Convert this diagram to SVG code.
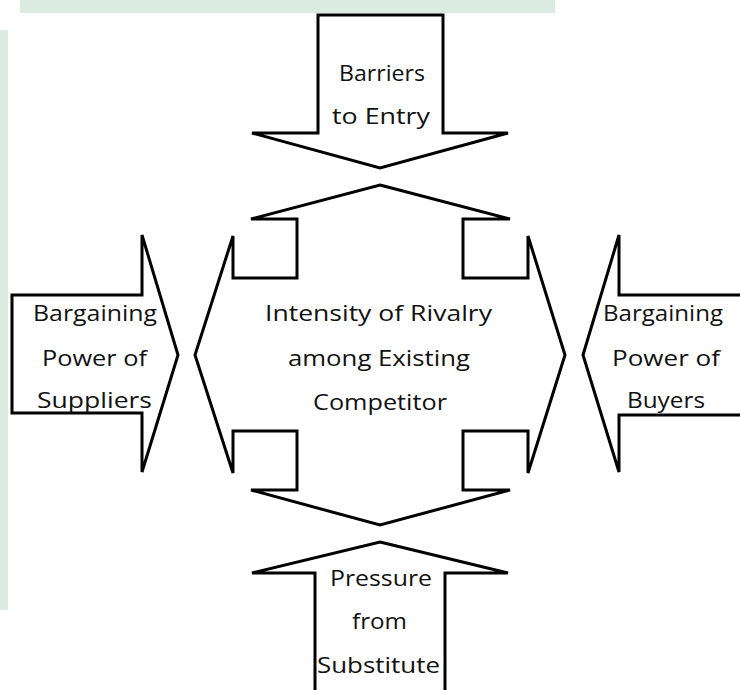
<svg xmlns="http://www.w3.org/2000/svg" width="740" height="690" viewBox="0 0 740 690">
  <style>
    .shape { fill: #ffffff; stroke: #000000; stroke-width: 3; stroke-linejoin: miter; }
    .lbl { font-family: "Open Sans", "Noto Sans", "DejaVu Sans", sans-serif; font-size: 21px; fill: #111111; text-anchor: middle; }
    .wm { fill: #dcebe2; }
  </style>
  <rect x="0" y="0" width="740" height="690" fill="#ffffff"/>
  <g id="watermark">
    <rect class="wm" x="20" y="0" width="535" height="13"/>
    <rect class="wm" x="0" y="30" width="8" height="580"/>
  </g>

  <g id="connectors">
    <g id="barriers">
      <polygon class="shape" points="318,15 443,15 443,133 508,133 380,168 252,133 318,133"/>
      <text class="lbl" x="382" y="81" textLength="86" lengthAdjust="spacingAndGlyphs">Barriers</text>
      <text class="lbl" x="381" y="124" textLength="98" lengthAdjust="spacingAndGlyphs">to Entry</text>
    </g>
    <g id="suppliers">
      <polygon class="shape" points="12,295 142,295 142,235 178,355 142,472 142,413 12,413"/>
      <text class="lbl" x="95" y="321" textLength="124" lengthAdjust="spacingAndGlyphs">Bargaining</text>
      <text class="lbl" x="94.5" y="366" textLength="105" lengthAdjust="spacingAndGlyphs">Power of</text>
      <text class="lbl" x="94.5" y="408" textLength="115" lengthAdjust="spacingAndGlyphs">Suppliers</text>
    </g>
    <g id="buyers">
      <polygon class="shape" points="583,355 619,235 619,295 745,295 745,415 619,415 619,472"/>
      <text class="lbl" x="663" y="321" textLength="120" lengthAdjust="spacingAndGlyphs">Bargaining</text>
      <text class="lbl" x="666" y="366" textLength="108" lengthAdjust="spacingAndGlyphs">Power of</text>
      <text class="lbl" x="666" y="408" textLength="78" lengthAdjust="spacingAndGlyphs">Buyers</text>
    </g>
    <g id="substitute">
      <polygon class="shape" points="380,542 508,573 445,573 445,700 315,700 315,573 252,573"/>
      <text class="lbl" x="381" y="586" textLength="102" lengthAdjust="spacingAndGlyphs">Pressure</text>
      <text class="lbl" x="379.5" y="629" textLength="55" lengthAdjust="spacingAndGlyphs">from</text>
      <text class="lbl" x="378.5" y="673" textLength="123" lengthAdjust="spacingAndGlyphs">Substitute</text>
    </g>
  </g>

  <g id="rivalry">
    <polygon class="shape" points="380,185 510,219 463,219 463,278 528,278 528,236 565,355 528,473 528,431 463,431 463,490 510,490 380,525 251,490 297,490 297,431 233,431 233,473 195,355 233,236 233,278 297,278 297,219 251,219"/>
    <text class="lbl" x="378.5" y="321" textLength="227" lengthAdjust="spacingAndGlyphs">Intensity of Rivalry</text>
    <text class="lbl" x="379" y="366" textLength="182" lengthAdjust="spacingAndGlyphs">among Existing</text>
    <text class="lbl" x="380" y="410" textLength="134" lengthAdjust="spacingAndGlyphs">Competitor</text>
  </g>
</svg>
